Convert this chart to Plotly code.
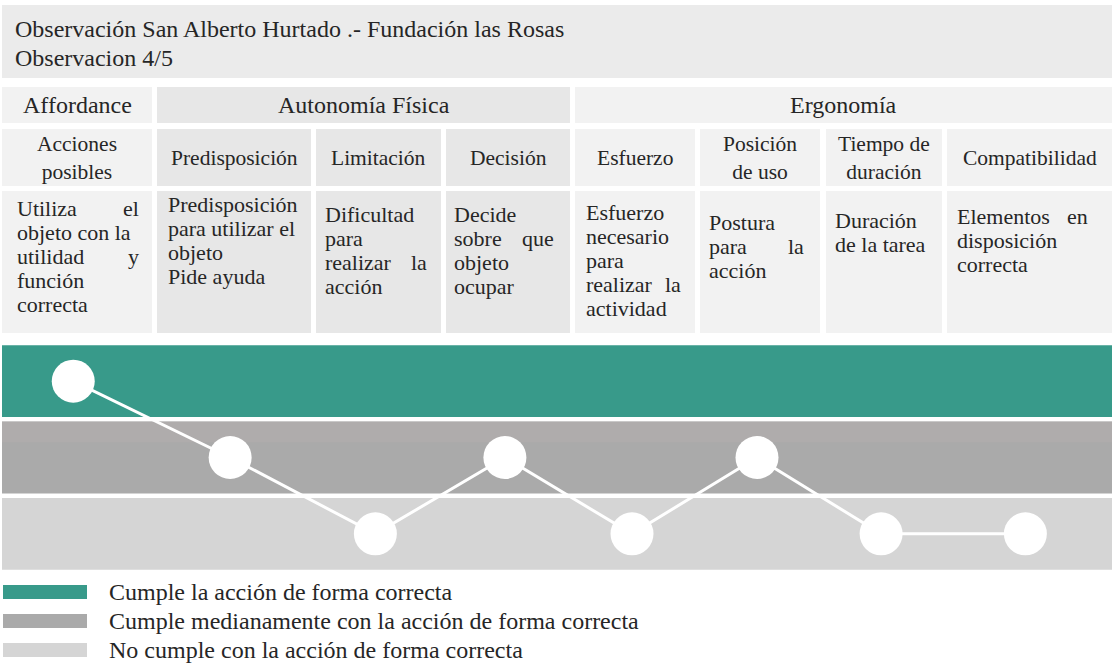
import plotly.graph_objects as go

# ---------------- data ----------------
title_lines = ["Observación San Alberto Hurtado .- Fundación las Rosas", "Observacion 4/5"]
groups = ["Affordance", "Autonomía Física", "Ergonomía"]
group_spans = [(0, 0), (1, 3), (4, 7)]  # column index ranges per group
criteria = ["Acciones<br>posibles", "Predisposición", "Limitación", "Decisión",
            "Esfuerzo", "Posición<br>de uso", "Tiempo de<br>duración", "Compatibilidad"]
descriptions = [
    ["Utiliza el", "objeto con la", "utilidad y", "función", "correcta"],
    ["Predisposición", "para utilizar el", "objeto", "Pide ayuda"],
    ["Dificultad", "para", "realizar la", "acción"],
    ["Decide", "sobre que", "objeto", "ocupar"],
    ["Esfuerzo", "necesario", "para", "realizar la", "actividad"],
    ["Postura", "para la", "acción"],
    ["Duración", "de la tarea"],
    ["Elementos en", "disposición", "correcta"],
]
levels = [3, 2, 1, 2, 1, 2, 1, 1]
level_values = [3, 2, 1]
level_labels = ["Cumple la acción de forma correcta",
                "Cumple medianamente con la acción de forma correcta",
                "No cumple con la acción de forma correcta"]

# ---------------- layout / style ----------------
W, H = 1112, 666
FONT = "Liberation Serif, Times New Roman, Times, serif"
TXT = "#262626"
LIGHT = "#f2f2f2"
DARK = "#e7e7e7"
band_colors = {3: "#389a8a", 2: "#aaaaaa", 1: "#d5d5d5"}
col_left = [2, 157, 316, 446, 575, 700, 826, 947]
col_right = [152, 311, 441, 570, 695, 820, 942, 1112]
col_fill = [LIGHT, DARK, DARK, DARK, LIGHT, LIGHT, LIGHT, LIGHT]
group_fill = [LIGHT, DARK, LIGHT]
row_head = (87, 123)
row_crit = (129, 186)
row_desc = (191, 333)
desc_top = [208, 204, 214, 214, 212, 222, 220, 216]
desc_pad_left = [13, 9, 7, 6, 9, 7, 7, 8]
desc_pad_right = [11, 12, 12, 14, 12, 14, 12, 22]
LINE_H = 24
POINT_FRAC = 0.475  # where the marker sits inside its column

fig = go.Figure()
shapes = []
ann = []


def rect(x0, y0, x1, y1, color, yref="y"):
    shapes.append(dict(type="rect", xref="x", yref=yref, x0=x0, x1=x1, y0=y0, y1=y1,
                       fillcolor=color, line=dict(width=0), layer="below"))


def text(x, y, s, size, xanchor="center", yanchor="middle", align="center"):
    ann.append(dict(x=x, y=y, xref="x", yref="y", text=s, showarrow=False,
                    xanchor=xanchor, yanchor=yanchor, align=align,
                    font=dict(family=FONT, size=size, color=TXT)))


# title box
rect(2, 5, W, 78, "#ebebeb")
text(13, 29, title_lines[0], 24, xanchor="left")
text(13, 58, title_lines[1], 24, xanchor="left")

# group header row
for g, (a, b) in enumerate(group_spans):
    rect(col_left[a], row_head[0], col_right[b], row_head[1], group_fill[g])
    text((col_left[a] + col_right[b]) / 2, (row_head[0] + row_head[1]) / 2, groups[g], 24)

# criteria row + description row
for i in range(len(criteria)):
    rect(col_left[i], row_crit[0], col_right[i], row_crit[1], col_fill[i])
    rect(col_left[i], row_desc[0], col_right[i], row_desc[1], col_fill[i])
    text((col_left[i] + col_right[i]) / 2, (row_crit[0] + row_crit[1]) / 2, criteria[i], 21.5)
    lines = descriptions[i]
    for k, line in enumerate(lines):
        y = desc_top[i] + k * LINE_H
        words = line.split(" ")
        xl = col_left[i] + desc_pad_left[i]
        xr = col_right[i] - desc_pad_right[i]
        if len(words) == 2 and k < len(lines) - 1:
            # justified line: spread words across the cell
            text(xl, y, words[0], 22, xanchor="left", align="left")
            text(xr, y, words[1], 22, xanchor="right", align="right")
        else:
            text(xl, y, line, 22, xanchor="left", align="left")

# level bands (in level axis coordinates)
for lv in level_values:
    rect(2, lv - 0.47, W, lv + 0.47, band_colors[lv], yref="y2")
# subtle lighter top of the middle band
shapes.append(dict(type="rect", xref="x", yref="y2", x0=2, x1=W, y0=2 + 0.2, y1=2 + 0.47,
                   fillcolor="#b3adad", line=dict(width=0), layer="below", opacity=0.6))

# points
xs = [col_left[i] + POINT_FRAC * (col_right[i] - col_left[i]) for i in range(len(levels))]
fig.add_trace(go.Scatter(x=xs, y=levels, xaxis="x", yaxis="y2", mode="lines+markers",
                         line=dict(color="white", width=3),
                         marker=dict(size=43, color="white", line=dict(width=0)),
                         hoverinfo="skip", showlegend=False))

# legend
leg_y = [592, 621, 650]
for j, lv in enumerate(level_values):
    rect(3, leg_y[j] - 7, 87, leg_y[j] + 7, band_colors[lv])
    text(107, leg_y[j], level_labels[j], 24, xanchor="left", align="left")

fig.update_layout(
    width=W, height=H, margin=dict(l=0, r=0, t=0, b=0),
    paper_bgcolor="white", plot_bgcolor="white",
    xaxis=dict(range=[0, W], visible=False, fixedrange=True),
    yaxis=dict(range=[H, 0], domain=[0, 1], visible=False, fixedrange=True),
    yaxis2=dict(range=[0.5, 3.5], domain=[(H - 572) / H, (H - 343) / H], anchor="x",
                visible=False, fixedrange=True),
    shapes=shapes, annotations=ann, showlegend=False,
)

fig.write_html("out.html", config={"displayModeBar": False},
               post_script="document.body.style.margin='0';")
